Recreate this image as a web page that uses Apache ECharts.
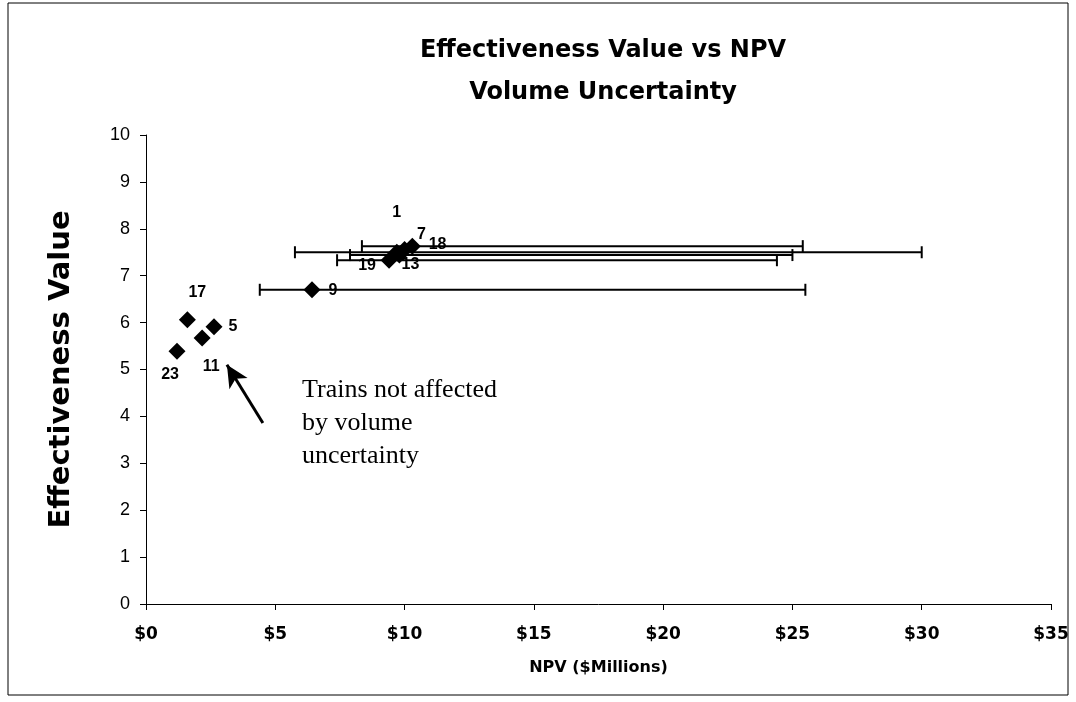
<!DOCTYPE html>
<html>
<head>
<meta charset="utf-8">
<script src="https://cdn.jsdelivr.net/npm/echarts@6/dist/echarts.min.js"></script>
<style>html,body{margin:0;padding:0;background:#fff}#c{width:1076px;height:702px}</style>
</head>
<body>
<div id="c"></div>
<script>
// ---- data ----
var trainIds = ['1', '7', '18', '13', '19', '9', '17', '5', '11', '23'];
var npvValues = [9.7, 10.3, 10.0, 9.8, 9.4, 6.42, 1.6, 2.63, 2.17, 1.2];
var effectiveness = [7.5, 7.63, 7.56, 7.44, 7.33, 6.7, 6.06, 5.91, 5.67, 5.39];
var npvLow = [5.76, 8.35, null, 7.89, 7.39, 4.4, null, null, null, null];
var npvHigh = [30.0, 25.4, null, 25.0, 24.4, 25.5, null, null, null, null];
var xTicks = [0, 5, 10, 15, 20, 25, 30, 35];
var yTicks = [0, 1, 2, 3, 4, 5, 6, 7, 8, 9, 10];
var noteLines = ['Trains not affected', 'by volume', 'uncertainty'];
var arrowFrom = [4.52, 3.86];
var arrowTo = [3.13, 5.1];

// label placement (pixel offsets from each marker)
var labelOffsets = {
  '1': [0, -40], '7': [9, -12], '18': [33, -5], '13': [11, 10], '19': [-22, 5],
  '9': [21, 1], '17': [10, -27], '5': [19, 0], '11': [9, 29], '23': [-7, 23]
};

var pointData = trainIds.map(function (id, i) {
  return {
    value: [npvValues[i], effectiveness[i]],
    name: id,
    label: { offset: labelOffsets[id] }
  };
});
var barData = [];
trainIds.forEach(function (id, i) {
  if (npvLow[i] != null) barData.push([npvLow[i], npvHigh[i], effectiveness[i]]);
});

var chart = echarts.init(document.getElementById('c'));
var boldFont = 'DejaVu Sans';
chart.setOption({
  animation: false,
  backgroundColor: '#fff',
  title: {
    text: 'Effectiveness Value vs NPV\nVolume Uncertainty',
    left: 598,
    textAlign: 'center',
    top: 25,
    textStyle: { fontFamily: boldFont, fontWeight: 'bold', fontSize: 24, lineHeight: 42, color: '#000' }
  },
  grid: { left: 146, right: 25, top: 135, bottom: 98 },
  xAxis: {
    type: 'value', min: xTicks[0], max: xTicks[xTicks.length - 1], interval: 5,
    name: 'NPV ($Millions)', nameLocation: 'middle', nameGap: 56,
    nameTextStyle: { fontFamily: boldFont, fontWeight: 'bold', fontSize: 16, color: '#000' },
    axisLine: { onZero: false, lineStyle: { color: '#000', width: 1 } },
    axisTick: { show: true, length: 6, inside: false, lineStyle: { color: '#000' } },
    axisLabel: { margin: 22, color: '#000', fontFamily: boldFont, fontWeight: 'bold', fontSize: 17,
      formatter: function (v) { return '$' + v; } },
    splitLine: { show: false }
  },
  yAxis: {
    type: 'value', min: yTicks[0], max: yTicks[yTicks.length - 1], interval: 1,
    name: 'Effectiveness Value', nameLocation: 'middle', nameGap: 70,
    nameTextStyle: { fontFamily: boldFont, fontWeight: 'bold', fontSize: 29, color: '#000' },
    axisLine: { show: true, lineStyle: { color: '#000', width: 1 } },
    axisTick: { show: true, length: 6, lineStyle: { color: '#000' } },
    axisLabel: { margin: 16, color: '#000', fontFamily: 'Liberation Sans', fontSize: 18 },
    splitLine: { show: false }
  },
  graphic: [
    { type: 'rect', shape: { x: 8, y: 3, width: 1060, height: 692 }, style: { fill: 'none', stroke: '#000', lineWidth: 1 }, silent: true },
    { type: 'text', left: 302, top: 374,
      style: { text: noteLines.join('\n'), fontFamily: 'Liberation Serif', fontSize: 26, lineHeight: 33, fill: '#000' } }
  ],
  series: [
    {
      type: 'custom',
      data: barData,
      encode: { x: [0, 1], y: 2 },
      renderItem: function (params, api) {
        var p1 = api.coord([api.value(0), api.value(2)]);
        var p2 = api.coord([api.value(1), api.value(2)]);
        var h = 6;
        var st = { stroke: '#000', lineWidth: 2 };
        return {
          type: 'group',
          children: [
            { type: 'line', shape: { x1: p1[0], y1: p1[1], x2: p2[0], y2: p2[1] }, style: st },
            { type: 'line', shape: { x1: p1[0], y1: p1[1] - h, x2: p1[0], y2: p1[1] + h }, style: st },
            { type: 'line', shape: { x1: p2[0], y1: p2[1] - h, x2: p2[0], y2: p2[1] + h }, style: st }
          ]
        };
      },
      z: 2
    },
    {
      type: 'scatter',
      data: pointData,
      symbol: 'diamond',
      symbolSize: 17,
      itemStyle: { color: '#000', opacity: 1 },
      label: {
        show: true, position: 'inside', color: '#000', opacity: 1,
        fontFamily: 'Liberation Sans', fontWeight: 'bold', fontSize: 16,
        formatter: function (p) { return p.name; }
      },
      z: 3,
      markLine: {
        silent: true,
        symbol: ['none', 'arrow'],
        symbolSize: [16, 22],
        label: { show: false },
        lineStyle: { color: '#000', width: 3, type: 'solid', opacity: 1 },
        data: [[{ coord: arrowFrom }, { coord: arrowTo }]]
      }
    }
  ]
});
</script>
</body>
</html>
